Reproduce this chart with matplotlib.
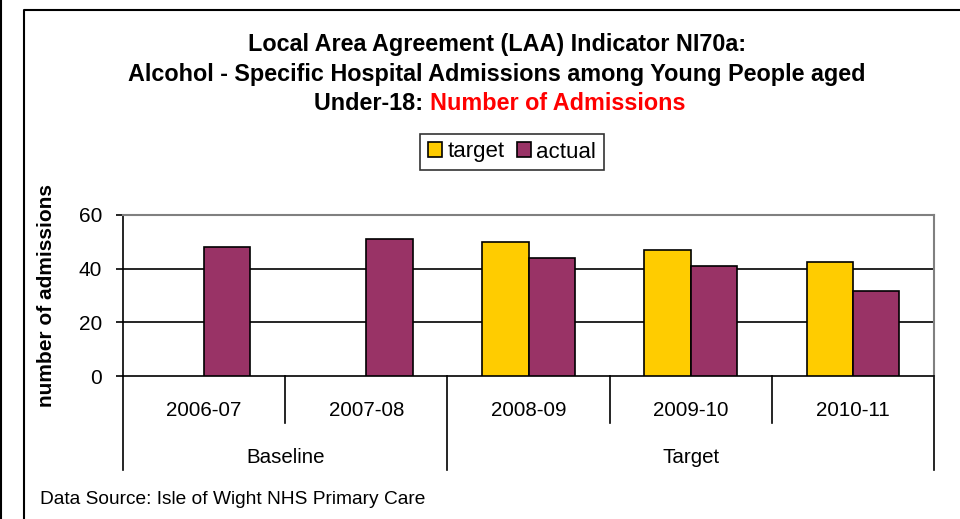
import matplotlib
matplotlib.use("Agg")
import matplotlib.pyplot as plt
from matplotlib.lines import Line2D
import numpy as np

plt.rcParams['font.family'] = ['Liberation Sans', 'DejaVu Sans']

# data
years = ['2006-07', '2007-08', '2008-09', '2009-10', '2010-11']
groups = ['Baseline', 'Target']
group_sizes = [2, 3]
target = [np.nan, np.nan, 50, 47, 42.5]
actual = [48, 51, 44, 41, 31.5]

yellow = '#FFCC00'
maroon = '#993366'

fig = plt.figure(figsize=(9.6, 5.19), dpi=100)
ax = fig.add_axes([123 / 960, 1 - 376 / 519, (934 - 123) / 960, (376 - 215) / 519])

x = np.arange(len(years))
w = 0.285
ax.bar(x - w / 2, target, w, color=yellow, edgecolor='black', linewidth=1.2, label='target', zorder=3)
ax.bar(x + w / 2, actual, w, color=maroon, edgecolor='black', linewidth=1.2, label='actual', zorder=3)

ax.set_xlim(-0.5, len(years) - 0.5)
ax.set_ylim(0, 60)
ax.set_yticks([0, 20, 40, 60])
ax.tick_params(axis='y', labelsize=15, length=5, width=1.2, direction='out', pad=10)
ax.set_xticks([])
for v in [20, 40]:
    ax.axhline(v, color='black', lw=1.2, zorder=1)

ax.spines['top'].set_color('#808080')
ax.spines['right'].set_color('#808080')
ax.spines['top'].set_linewidth(1.5)
ax.spines['right'].set_linewidth(1.5)
ax.spines['left'].set_linewidth(1.2)
ax.spines['bottom'].set_linewidth(1.2)

ax.set_ylabel('number of admissions', fontsize=15, fontweight='bold')
ax.yaxis.set_label_coords(-0.082, 0.5)

# multi-level category axis
trans = ax.get_xaxis_transform()
for i, yr in enumerate(years):
    ax.text(i, -0.215, yr, transform=trans, ha='center', va='center', fontsize=14.8)
bounds = np.cumsum([0] + group_sizes) - 0.5
for b in np.arange(-0.5, len(years)):
    bottom = -0.584 if b in bounds else -0.292
    ax.plot([b, b], [0, bottom], transform=trans, color='black', lw=1.2, clip_on=False)
for g, start, size in zip(groups, bounds[:-1], group_sizes):
    ax.text(start + size / 2, -0.505, g, transform=trans, ha='center', va='center', fontsize=14.8)

# title, with red part on the last line
cx = 497 / 960
fig.text(cx, 1 - 44 / 519, 'Local Area Agreement (LAA) Indicator NI70a:', ha='center', va='center',
         fontsize=16.8, fontweight='bold')
fig.text(cx, 1 - 74 / 519, 'Alcohol - Specific Hospital Admissions among Young People aged', ha='center',
         va='center', fontsize=16.8, fontweight='bold')
t1 = fig.text(cx, 1 - 103 / 519, 'Under-18: ', ha='right', va='center', fontsize=16.8, fontweight='bold')
t2 = fig.text(cx, 1 - 103 / 519, 'Number of Admissions', ha='left', va='center', fontsize=16.8,
              fontweight='bold', color='#FF0000')
fig.canvas.draw()
r = fig.canvas.get_renderer()
w1 = t1.get_window_extent(r).width
w2 = t2.get_window_extent(r).width
shift = (w1 - w2) / 2 / 960 + 3 / 960
t1.set_x(cx + shift)
t2.set_x(cx + shift)

leg = fig.legend(loc='center', bbox_to_anchor=(512 / 960, 1 - 152 / 519), ncol=2, fontsize=16,
                 frameon=True, fancybox=False, edgecolor='black', handlelength=0.62, handleheight=0.62,
                 handletextpad=0.25, columnspacing=0.55, borderpad=0.35)
leg.get_frame().set_linewidth(1.2)

fig.text(40 / 960, 1 - 500 / 519, 'Data Source: Isle of Wight NHS Primary Care', ha='left', va='center',
         fontsize=13.8)

# outer frames
fig.add_artist(Line2D([1 / 960, 1 / 960], [0, 1], transform=fig.transFigure, color='black', lw=1.5))
fig.add_artist(Line2D([23.5 / 960, 23.5 / 960, 1], [0, 1 - 10 / 519, 1 - 10 / 519],
                      transform=fig.transFigure, color='black', lw=1.5))

fig.savefig('out.png', dpi=100)
